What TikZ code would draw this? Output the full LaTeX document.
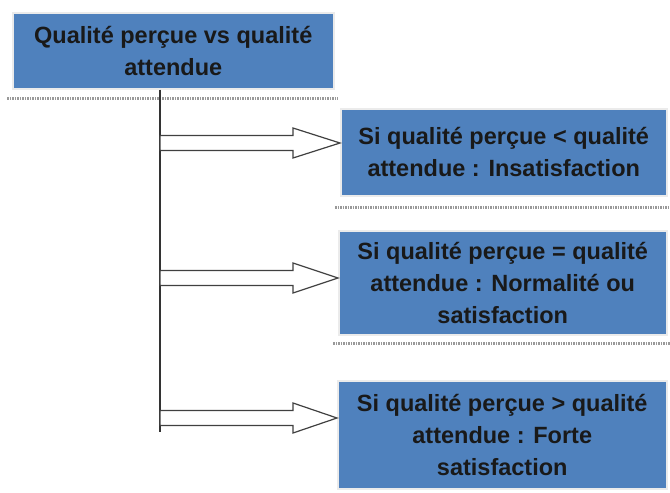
\documentclass[tikz,border=0pt]{standalone}
\usepackage{fontspec}
\setmainfont{Liberation Sans}
\definecolor{boxblue}{RGB}{79,129,189}
\begin{document}
\begin{tikzpicture}[x=1pt,y=-1pt,thick]
\tikzset{
	boite/.style={fill=boxblue,draw=black!8,line width=1.5pt,text=black!90,
		font=\bfseries\fontsize{23.5}{32}\selectfont,align=center,
		inner sep=0pt,anchor=north west},
	ombre/.style={color=black!40,line width=2.5pt,dash pattern=on 1.5pt off 1pt},
	fleche/.style={draw=black!75,fill=white,line width=1.2pt},
	trait/.style={draw=black!80,line width=1.4pt}
}
\useasboundingbox (0,0) rectangle (670,493);
\node[boite,minimum width=321pt,minimum height=76pt] (haut) at (12,12)
	{Qualité perçue vs qualité\\attendue};
\node[boite,minimum width=326pt,minimum height=87pt] (b1) at (340,108)
	{Si qualité perçue < qualité\\attendue : Insatisfaction};
\node[boite,minimum width=328pt,minimum height=104pt] (b2) at (338,230)
	{Si qualité perçue = qualité\\attendue : Normalité ou\\satisfaction};
\node[boite,minimum width=329pt,minimum height=108pt] (b3) at (337,380)
	{Si qualité perçue > qualité\\attendue : Forte\\satisfaction};
\draw[ombre] ([xshift=-5pt,yshift=-9pt]haut.south west) -- ([xshift=3pt,yshift=-9pt]haut.south east);
\draw[ombre] ([xshift=-5pt,yshift=-11pt]b1.south west) -- ([xshift=4pt,yshift=-11pt]b1.south east);
\draw[ombre] ([xshift=-5pt,yshift=-8pt]b2.south west) -- ([xshift=4pt,yshift=-8pt]b2.south east);
\coordinate (bas) at (160,432);
\draw[trait] (haut.south -| bas) -- (bas);
\foreach \b/\y in {b1/143,b2/278,b3/418}{
	\coordinate (f\b) at (0,\y);
	\draw[fleche] (bas |- f\b) ++(0,-7.5) -- (293,\y-7.5) -- (293,\y-15)
		-- (\b.west |- f\b) -- (293,\y+15) -- (293,\y+7.5) -- (160,\y+7.5) -- cycle;
}
\end{tikzpicture}
\end{document}
